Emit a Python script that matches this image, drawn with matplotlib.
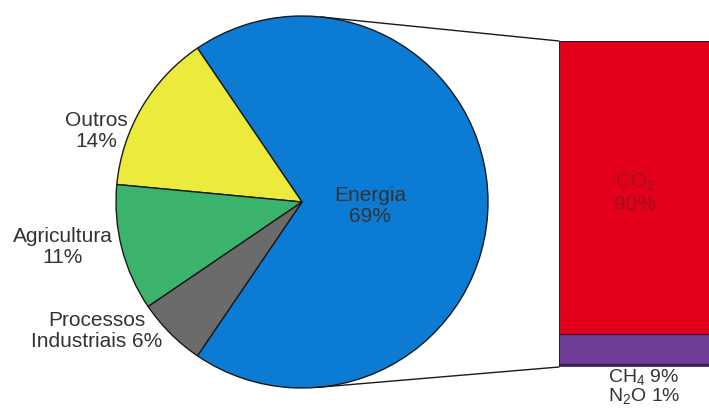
import numpy as np
import matplotlib.pyplot as plt
from matplotlib.patches import ConnectionPatch

plt.rcParams['font.family'] = ['Liberation Sans', 'DejaVu Sans']
plt.rcParams['mathtext.fontset'] = 'custom'
plt.rcParams['mathtext.rm'] = 'Liberation Sans'

# emissions by sector (%)
sectors = ['Energia', 'Outros', 'Agricultura', 'Processos\nIndustriais']
sector_share = [69, 14, 11, 6]
sector_colors = ['#0b7bd4', '#ecea3c', '#3cb36c', '#6b6b6b']

# breakdown of the energy sector by gas (%)
gases = ['N$_\\mathregular{2}$O', 'CH$_\\mathregular{4}$', 'CO$_\\mathregular{2}$']
gas_share = [1, 9, 90]
gas_colors = ['#4d2b72', '#6f3c98', '#e3001b']

W, H = 709, 410
fig = plt.figure(figsize=(W / 100, H / 100), dpi=100)

# pie axes, centred at (302, 203) px with radius 186 px
cx, cy, r = 302, 203, 186
ax_pie = fig.add_axes([(cx - r) / W, (H - cy - r) / H, 2 * r / W, 2 * r / H])
start = -sector_share[0] / 100 * 360 / 2  # keep Energia centred on the right
wedges, _ = ax_pie.pie(sector_share, colors=sector_colors, startangle=start,
                       counterclock=True, radius=1,
                       wedgeprops=dict(edgecolor='#1a1a1a', linewidth=1.0))
ax_pie.set_xlim(-1, 1)
ax_pie.set_ylim(-1, 1)
ax_pie.set_aspect('equal')
ax_pie.axis('off')

# stacked bar for the gases
bx0, by0, by1 = 559, 42, 368
ax_bar = fig.add_axes([bx0 / W, (H - by1) / H, (W - bx0) / W, (by1 - by0) / H])
bottom = 0
for share, color in zip(gas_share, gas_colors):
    ax_bar.bar(0, share, bottom=bottom, width=2, align='edge', color=color,
               edgecolor='#2a1a2a', linewidth=0.8)
    bottom += share
ax_bar.set_xlim(0, 1)
ax_bar.set_ylim(0, sum(gas_share))
ax_bar.axis('off')

text_kw = dict(fontsize=15, color='#333333', ha='center', va='center', linespacing=1.15)

fig.text(370 / W, 1 - 206 / H, f"{sectors[0]}\n{sector_share[0]}%", **text_kw)
fig.text(96 / W, 1 - 131 / H, f"{sectors[1]}\n{sector_share[1]}%", **text_kw)
fig.text(63 / W, 1 - 247 / H, f"{sectors[2]}\n{sector_share[2]}%", **text_kw)
fig.text(97 / W, 1 - 331 / H, f"{sectors[3]} {sector_share[3]}%", **text_kw)

fig.text(635 / W, 1 - 193 / H, f"{gases[2]}\n{gas_share[2]}%",
         fontsize=15, color='#8c1616', alpha=0.75, ha='center', va='center',
         linespacing=1.15)
# minor gases listed under the bar
fig.text(644 / W, 1 - 368 / H,
         f"{gases[1]} {gas_share[1]}%\n{gases[0]} {gas_share[0]}%",
         fontsize=14, color='#333333', ha='center', va='top', linespacing=0.92)

# tangent lines from the pie to the bar corners
fig.canvas.draw()
for corner_y in (1.0, 0.0):
    disp = ax_bar.transAxes.transform((0, corner_y))
    px_, py_ = ax_pie.transData.inverted().transform(disp)
    d = np.hypot(px_, py_)
    base = np.arctan2(py_, px_)
    off = np.arccos(1 / d)
    ang = base + off if corner_y == 1.0 else base - off
    con = ConnectionPatch(xyA=(np.cos(ang), np.sin(ang)), coordsA=ax_pie.transData,
                          xyB=(0, corner_y), coordsB=ax_bar.transAxes,
                          color='#1a1a1a', linewidth=1.0)
    fig.add_artist(con)

fig.savefig('out.png', dpi=100, facecolor='white')
